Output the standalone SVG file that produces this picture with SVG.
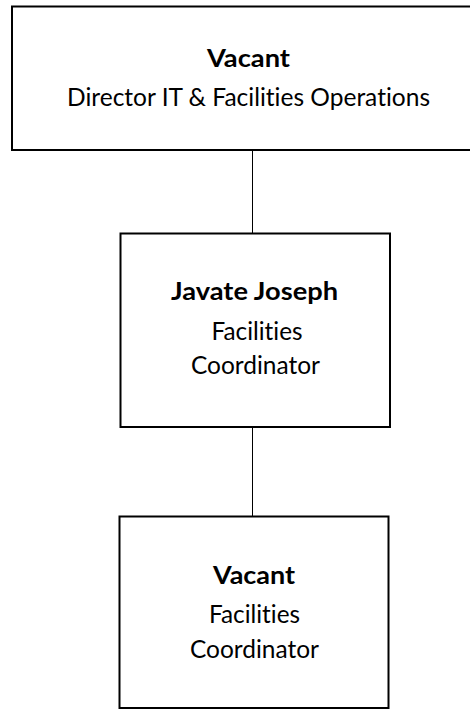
<svg xmlns="http://www.w3.org/2000/svg" width="470" height="709" viewBox="0 0 470 709">
<style>
.box{fill:#fff;stroke:#000;stroke-width:2}
.conn{stroke:#000;stroke-width:1;fill:none}
text{font-family:Lato,"Open Sans","Liberation Sans",sans-serif;font-size:24.5px;fill:#000;text-anchor:middle;font-variant-ligatures:none}
.b{font-weight:bold}
</style>
<rect width="470" height="709" fill="#fff"/>
<g id="connectors">
<line class="conn" x1="252.5" y1="150" x2="252.5" y2="233"/>
<line class="conn" x1="252.5" y1="427" x2="252.5" y2="516"/>
</g>
<g id="node-director">
<rect class="box" x="12" y="6.5" width="476" height="143.5"/>
<text class="b" x="248.5" y="66.5" textLength="83" lengthAdjust="spacingAndGlyphs">Vacant</text>
<text x="248.5" y="106" textLength="363" lengthAdjust="spacingAndGlyphs">Director IT &amp; Facilities Operations</text>
</g>
<g id="node-javate">
<rect class="box" x="120.5" y="233.5" width="269.5" height="193.5"/>
<text class="b" x="254.5" y="300" textLength="167" lengthAdjust="spacingAndGlyphs">Javate Joseph</text>
<text x="257" y="339.5" textLength="91" lengthAdjust="spacingAndGlyphs">Facilities</text>
<text x="255.5" y="374" textLength="129" lengthAdjust="spacingAndGlyphs">Coordinator</text>
</g>
<g id="node-vacant-coordinator">
<rect class="box" x="119.5" y="516.5" width="269" height="191.5"/>
<text class="b" x="254" y="584" textLength="82" lengthAdjust="spacingAndGlyphs">Vacant</text>
<text x="254.5" y="623" textLength="91" lengthAdjust="spacingAndGlyphs">Facilities</text>
<text x="254.5" y="658" textLength="129" lengthAdjust="spacingAndGlyphs">Coordinator</text>
</g>
</svg>
